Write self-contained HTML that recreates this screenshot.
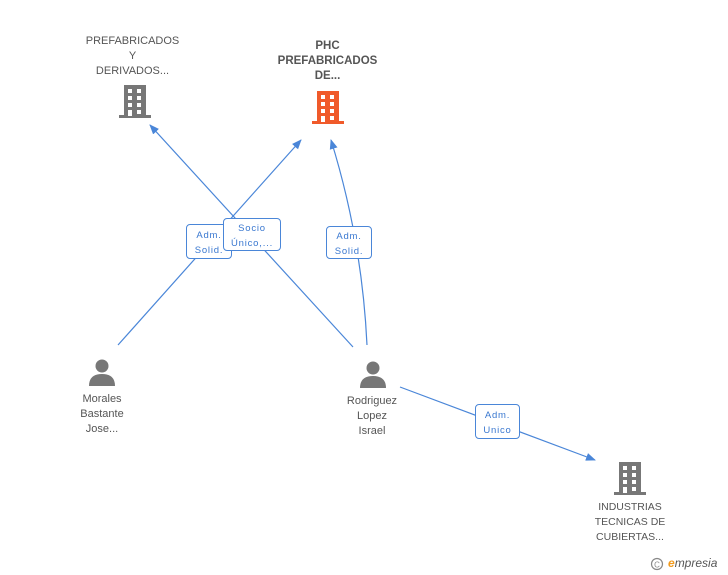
<!DOCTYPE html>
<html><head><style>
body{margin:0;width:728px;height:575px;background:#fff;position:relative;font-family:"Liberation Sans",sans-serif;overflow:hidden}
.t{position:absolute;text-align:center;font-size:11px;line-height:15px;color:#555}
.b{position:absolute;background:#fff;border:1px solid #4a86d8;border-radius:4px;color:#3a78d0;font-size:9.5px;line-height:15px;text-align:center;letter-spacing:0.8px;box-sizing:border-box}
</style></head><body>
<svg width="728" height="575" style="position:absolute;left:0;top:0">
<defs><marker id="a" markerWidth="10" markerHeight="10" refX="9" refY="5" orient="auto" markerUnits="userSpaceOnUse"><path d="M0,1 L10,5 L0,9 Z" fill="#4a86d8"/></marker></defs>
<g stroke="#4a86d8" stroke-width="1.2" fill="none">
<line x1="118" y1="345" x2="301" y2="140" marker-end="url(#a)"/>
<line x1="353" y1="347" x2="150" y2="125" marker-end="url(#a)"/>
<path d="M367,345 Q362,240 331,140" marker-end="url(#a)"/>
<line x1="400" y1="387" x2="595" y2="460" marker-end="url(#a)"/>
</g>
<g fill="#777">
<rect x="124" y="85" width="22" height="32"/><rect x="119" y="115" width="32" height="3"/>
</g>
<g fill="#fff">
<rect x="128" y="89" width="4" height="4"/><rect x="137" y="89" width="4" height="4"/>
<rect x="128" y="96" width="4" height="4"/><rect x="137" y="96" width="4" height="4"/>
<rect x="128" y="103" width="4" height="4"/><rect x="137" y="103" width="4" height="4"/>
<rect x="128" y="110" width="4" height="6"/><rect x="137" y="110" width="4" height="4"/>
</g>
<g fill="#f05a2a">
<rect x="317" y="91" width="22" height="32"/><rect x="312" y="121" width="32" height="3"/>
</g>
<g fill="#fff">
<rect x="321" y="95" width="4" height="4"/><rect x="330" y="95" width="4" height="4"/>
<rect x="321" y="102" width="4" height="4"/><rect x="330" y="102" width="4" height="4"/>
<rect x="321" y="109" width="4" height="4"/><rect x="330" y="109" width="4" height="4"/>
<rect x="321" y="116" width="4" height="6"/><rect x="330" y="116" width="4" height="4"/>
</g>
<g fill="#777">
<rect x="619" y="462" width="22" height="32"/><rect x="614" y="492" width="32" height="3"/>
</g>
<g fill="#fff">
<rect x="623" y="466" width="4" height="4"/><rect x="632" y="466" width="4" height="4"/>
<rect x="623" y="473" width="4" height="4"/><rect x="632" y="473" width="4" height="4"/>
<rect x="623" y="480" width="4" height="4"/><rect x="632" y="480" width="4" height="4"/>
<rect x="623" y="487" width="4" height="6"/><rect x="632" y="487" width="4" height="4"/>
</g>
<g fill="#777">
<circle cx="102" cy="366" r="6.5"/><path d="M89,386 Q89,374 102,374 Q115,374 115,386 Z"/>
<circle cx="373" cy="368" r="6.5"/><path d="M360,388 Q360,376 373,376 Q386,376 386,388 Z"/>
</g>
<circle cx="657" cy="564" r="5.5" fill="none" stroke="#888" stroke-width="1.2"/>
<text x="657" y="567.5" font-size="8" fill="#888" text-anchor="middle" font-family="Liberation Sans">C</text>
</svg>
<div class="t" style="left:70px;top:34px;width:125px">PREFABRICADOS<br>Y<br>DERIVADOS...</div>
<div class="t" style="left:265px;top:39px;width:125px;font-weight:bold;font-size:11.5px">PHC<br>PREFABRICADOS<br>DE...</div>
<div class="t" style="left:52px;top:392px;width:100px">Morales<br>Bastante<br>Jose...</div>
<div class="t" style="left:322px;top:394px;width:100px">Rodriguez<br>Lopez<br>Israel</div>
<div class="t" style="left:570px;top:500px;width:120px;font-size:10.5px">INDUSTRIAS<br>TECNICAS DE<br>CUBIERTAS...</div>
<div class="b" style="left:186px;top:224px;width:46px;height:35px;padding-top:3px">Adm.<br>Solid.</div>
<div class="b" style="left:223px;top:218px;width:58px;height:33px;padding-top:2px">Socio<br>Único,...</div>
<div class="b" style="left:326px;top:226px;width:46px;height:33px;padding-top:2px">Adm.<br>Solid.</div>
<div class="b" style="left:475px;top:404px;width:45px;height:35px;padding-top:3px">Adm.<br>Unico</div>
<div style="position:absolute;left:668px;top:556px;font-size:12px;color:#555;font-style:italic"><span style="color:#f29a1c;font-weight:bold">e</span>mpresia</div>
</body></html>
